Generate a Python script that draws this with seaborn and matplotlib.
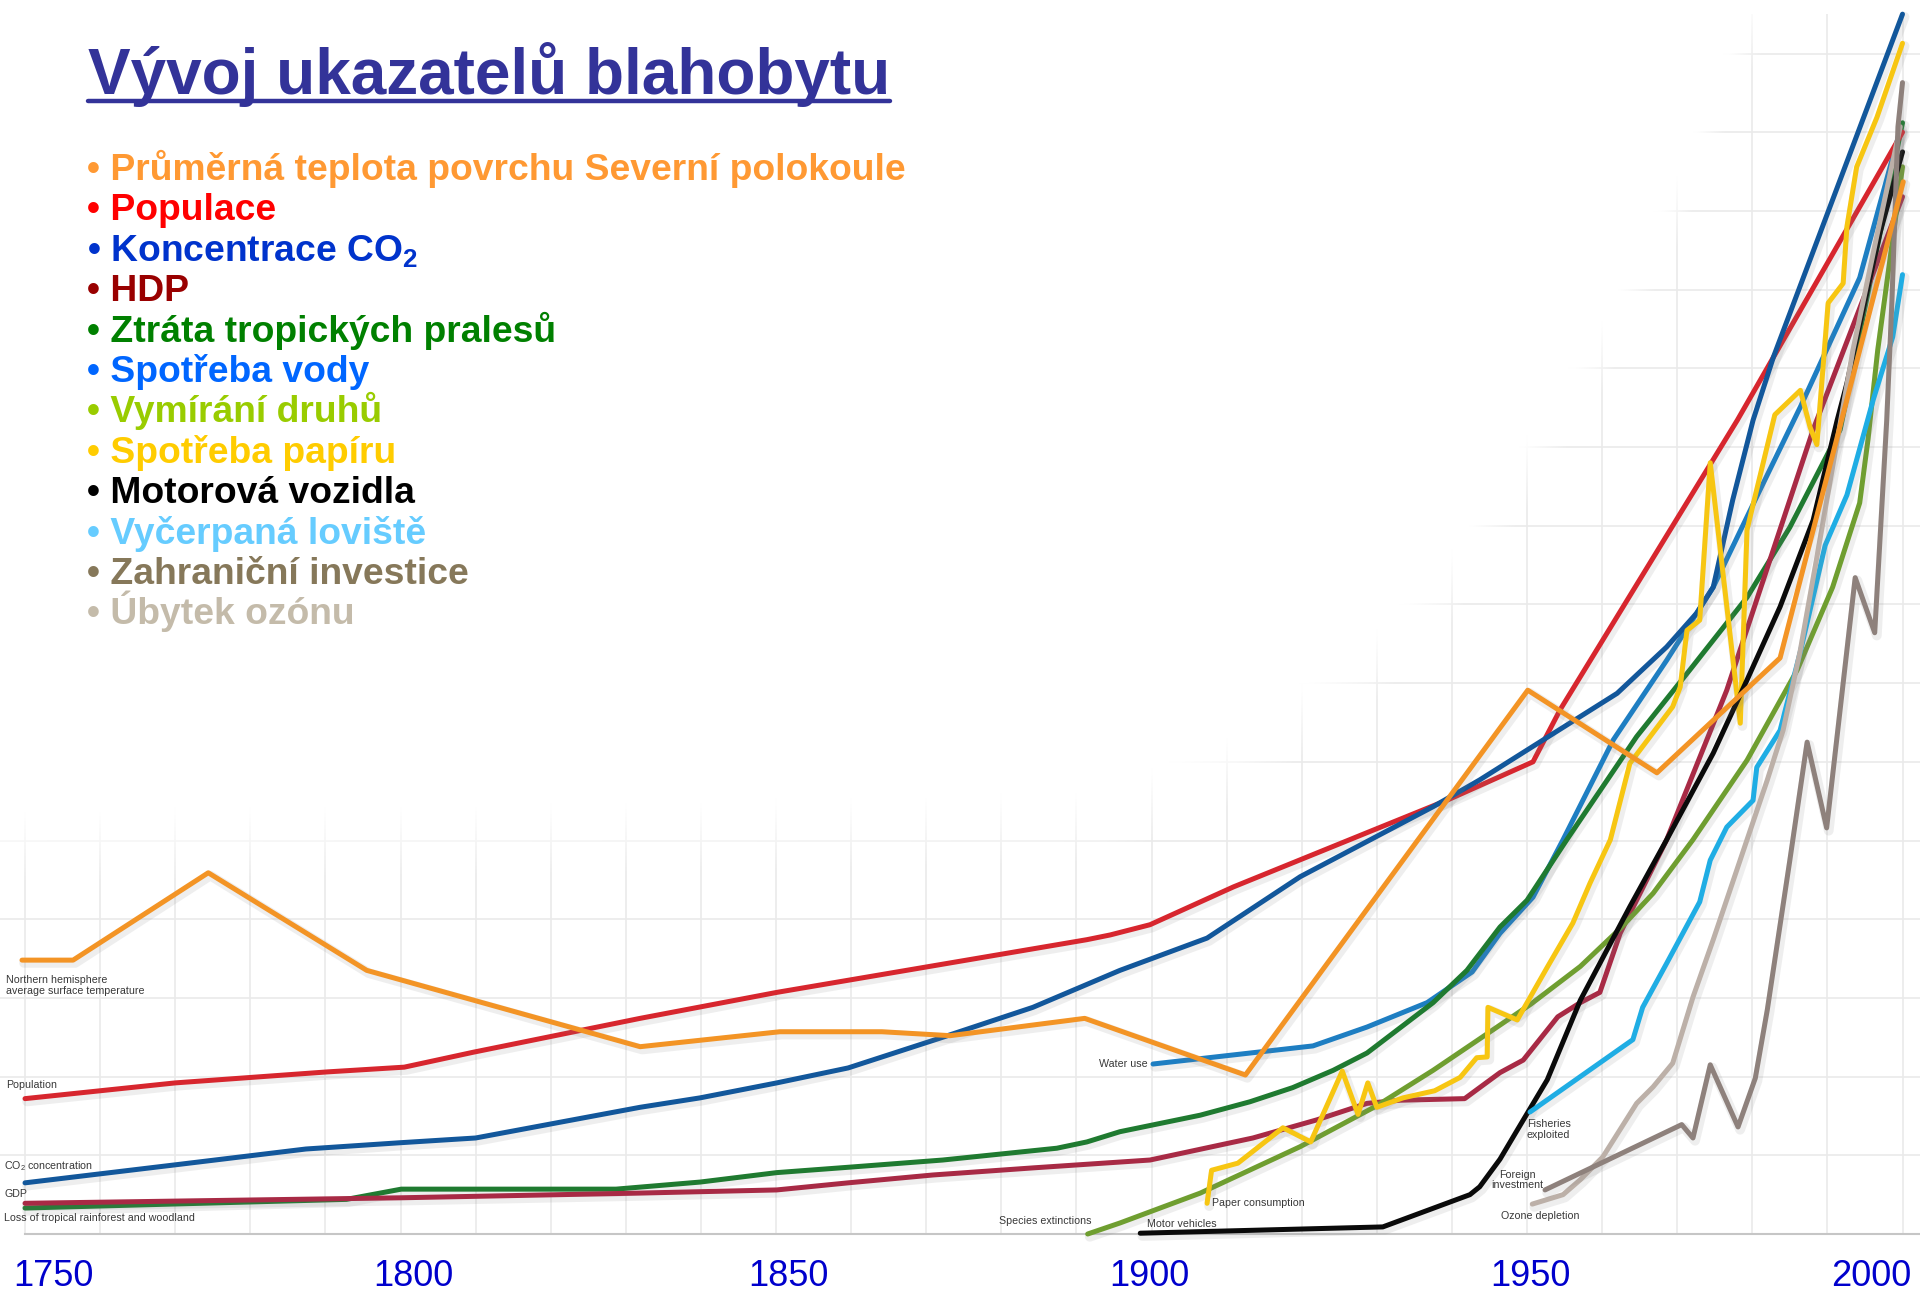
import numpy as np
import matplotlib
matplotlib.use("Agg")
import matplotlib.pyplot as plt
import matplotlib.patheffects as pe
import matplotlib.transforms as mtransforms
from matplotlib.lines import Line2D
import seaborn as sns

# --- values: year and an index (10 units = one grid row) ---
temp_years = [1749.6, 1756.4, 1774.4, 1795.5, 1831.9, 1850.5, 1864.1, 1873.2, 1891.1, 1912.5, 1950.1, 1967.3, 1983.7, 2000.1]
temp_vals = [34.8, 34.8, 45.9, 33.5, 23.8, 25.7, 25.7, 25.2, 27.4, 20.2, 69.1, 58.6, 73.2, 133.7]

pop_years = [1750, 1770, 1790.3, 1800.5, 1809.7, 1831.9, 1850.1, 1891.4, 1894.5, 1899.8, 1910.9, 1928.7, 1939.3, 1950.8, 1954.4, 1978.0, 2000]
pop_vals = [17.2, 19.2, 20.6, 21.2, 23.1, 27.4, 30.7, 37.4, 38.0, 39.3, 44.1, 51.0, 55.1, 60.0, 66.6, 103.4, 140.0]

co2_years = [1750, 1770.1, 1787.4, 1800, 1810, 1831.9, 1839.9, 1850.1, 1859.6, 1872.2, 1884.2, 1895.8, 1907.4, 1919.8,
             1937.5, 1943.7, 1962.0, 1968.6, 1972.6, 1974.8, 1977.4, 1980.1, 1982.8, 2000]
co2_vals = [6.5, 8.8, 10.8, 11.6, 12.2, 16.1, 17.3, 19.2, 21.1, 25.0, 28.8, 33.5, 37.6, 45.4,
            54.3, 57.7, 68.7, 74.6, 78.9, 82.2, 93.3, 103.4, 111.4, 155.0]

gdp_years = [1750, 1800, 1831.9, 1850.1, 1859.6, 1870.9, 1884.2, 1899.8, 1913.5, 1922.0, 1928.7, 1933.1, 1941.7,
             1946.4, 1949.5, 1954.1, 1957.1, 1959.7, 1962.4, 1968.6, 1976.6, 1988.1, 2000]
gdp_vals = [3.9, 4.6, 5.2, 5.6, 6.5, 7.5, 8.4, 9.4, 12.2, 14.5, 16.6, 17.0, 17.2,
            20.5, 22.1, 27.6, 29.4, 30.7, 38.2, 50.1, 69.1, 102.2, 131.8]

forest_years = [1750, 1792.8, 1800.1, 1828.7, 1839.9, 1850.1, 1859.9, 1872.2, 1887.4, 1891.4, 1895.8, 1906.5, 1913.1,
                1918.8, 1924.2, 1928.7, 1933.1, 1937.5, 1942.0, 1946.4, 1950.0, 1955.3, 1964.6, 1971.7, 1979.3,
                1985.0, 1991.7, 2000]
forest_vals = [3.3, 4.4, 5.7, 5.7, 6.6, 7.8, 8.5, 9.4, 10.9, 11.7, 13.0, 15.1, 16.8,
               18.6, 20.8, 23.0, 26.2, 29.4, 33.5, 39.0, 42.4, 50.1, 63.2, 71.7, 80.9,
               89.8, 102.2, 141.2]

water_years = [1900.2, 1921.5, 1928.7, 1936.7, 1942.7, 1946.4, 1950.8, 1954.8, 1961.5, 1968.6, 1974.8, 1981.0, 1986.4, 1994.3, 1999.7]
water_vals = [21.6, 23.9, 26.3, 29.4, 33.3, 38.2, 42.8, 50.1, 62.8, 72.9, 82.2, 94.5, 105.1, 121.5, 140.3]

species_years = [1891.5, 1895.8, 1906.5, 1919.8, 1930.0, 1937.5, 1943.7, 1950.5, 1957.1, 1962.4, 1966.8, 1972.1,
                 1979.3, 1986.0, 1990.7, 1994.3, 1995.4, 1996.7, 1999.4, 2000]
species_vals = [0.0, 1.4, 5.2, 11.1, 16.3, 20.8, 24.8, 29.2, 34.0, 38.8, 43.3, 50.1,
                60.2, 71.7, 82.2, 92.9, 100.9, 112.3, 131.4, 135.6]

paper_years = [1907.4, 1908, 1911.5, 1917.5, 1921.2, 1925.4, 1927.5, 1928.8, 1930, 1933.5, 1937.7, 1941.1, 1943.3,
               1944.7, 1944.8, 1948.7, 1952.7, 1956.1, 1958.4, 1961.1, 1963.7, 1969.4, 1970.4, 1971.3, 1973,
               1974.4, 1978.4, 1979.3, 1983, 1986.4, 1987.7, 1988.6, 1990.1, 1992.1, 1992.6, 1993.9, 1996.6, 2000]
paper_vals = [3.9, 8.1, 9.0, 13.5, 11.7, 20.7, 15.2, 19.2, 16.1, 17.3, 18.2, 19.9, 22.4,
              22.5, 28.8, 27.2, 33.9, 39.5, 44.6, 50.1, 59.8, 67.0, 69.5, 76.7, 78.0,
              98.0, 64.9, 89.5, 104.1, 107.2, 102.5, 100.3, 118.3, 120.8, 128.0, 135.6, 141.9, 151.3]

motor_years = [1898.5, 1930.8, 1942.4, 1943.7, 1946.4, 1948.7, 1952.7, 1957.1, 1963.7, 1968.6, 1974.8, 1979.3,
               1983.7, 1988.1, 1991.3, 1992.6, 1997.0, 2000]
motor_vals = [0.1, 0.9, 5.0, 6.0, 9.5, 13.2, 19.6, 29.7, 41.6, 50.1, 61.1, 70.4,
              79.7, 90.7, 103.4, 108.1, 127.2, 137.5]

fish_years = [1950.4, 1964.1, 1965.4, 1968.6, 1973.0, 1974.4, 1976.6, 1980.1, 1980.6, 1983.7, 1986.4, 1989.7,
              1992.6, 1996.1, 1998.7, 2000]
fish_vals = [15.5, 24.7, 28.8, 34.4, 42.2, 47.5, 51.7, 55.1, 59.3, 64.0, 74.0, 87.5,
             93.9, 106.0, 114.0, 121.9]

invest_years = [1952.4, 1970.6, 1972.1, 1974.4, 1978.1, 1980.4, 1982.0, 1985.0, 1987.3, 1989.9, 1993.7, 1996.3,
                1997.9, 1998.6, 1999.4, 2000]
invest_vals = [5.6, 13.9, 12.2, 21.5, 13.6, 19.8, 28.5, 47.5, 62.5, 51.6, 83.4, 76.4,
               103.4, 118.7, 140.7, 146.3]

ozone_years = [1950.7, 1954.8, 1957.1, 1960.1, 1964.6, 1966.8, 1969.4, 1972.1, 1974.8, 1979.3, 1982.0, 1984.1,
               1986.4, 1988.6, 1993.4, 1996.6, 1999.7]
ozone_vals = [3.8, 5.0, 6.9, 9.8, 16.6, 18.7, 21.7, 30.1, 37.4, 50.1, 57.7, 64.0,
              74.2, 86.0, 112.3, 126.9, 140.7]

tick_years = [1750, 1800, 1850, 1900, 1950, 2000]
tick_labels = ["1750", "1800", "1850", "1900", "1950", "2000"]

title_text = "Vývoj ukazatelů blahobytu"
legend_labels = [
    "Průměrná teplota povrchu Severní polokoule",
    "Populace",
    "Koncentrace CO$_\\mathbf{2}$",
    "HDP",
    "Ztráta tropických pralesů",
    "Spotřeba vody",
    "Vymírání druhů",
    "Spotřeba papíru",
    "Motorová vozidla",
    "Vyčerpaná loviště",
    "Zahraniční investice",
    "Úbytek ozónu",
]
legend_colors = ["#FF9933", "#FF0000", "#0033CC", "#990000", "#008000", "#0066FF",
                 "#99CC00", "#FFCC00", "#000000", "#66CCFF", "#86785A", "#C4BBAA"]

# --- style ---
sns.set_style("white")
plt.rcParams["font.family"] = ["Liberation Sans", "DejaVu Sans"]
plt.rcParams["mathtext.fontset"] = "custom"
plt.rcParams["mathtext.rm"] = "Liberation Sans"
plt.rcParams["mathtext.it"] = "Liberation Sans:italic"
plt.rcParams["mathtext.bf"] = "Liberation Sans:bold"

W, H = 1920, 1292
fig = plt.figure(figsize=(W / 100, H / 100), dpi=100)
ax = fig.add_axes([0, 0, 1, 1])
xlim = (1746.67, 2002.33)
ylim = (-7.37, 156.8)

# faint grid, faded out behind the text block in the upper left
ax.vlines(np.arange(1750, 2001, 10), 0, 155, colors="#EAEAEA", lw=1.2, zorder=0.5)
ax.hlines(np.arange(10, 151, 10), xlim[0], xlim[1], colors="#EAEAEA", lw=1.2, zorder=0.5)

gx = np.linspace(0, W, 385)
gy = np.linspace(0, H, 260)
edge_x = [0, 700, 1100, 1240, 1377, 1450, 1603, 1680, 1750, 1775, 1920]
edge_y = [850, 840, 830, 770, 670, 595, 360, 210, 40, 0, -300]
edge = np.interp(gx, edge_x, edge_y)
mask = np.ones((len(gy), len(gx), 4))
mask[..., 3] = np.clip((edge[None, :] - gy[:, None]) / 70 + 0.5, 0, 1)
ax.imshow(mask, extent=(0, 1, 0, 1), transform=ax.transAxes, origin="upper",
          aspect="auto", zorder=1, interpolation="bilinear")

shadow = [pe.SimpleLineShadow(offset=(1.5, -2.0), shadow_color="#7f7f7f", alpha=0.13, linewidth=7),
          pe.Normal()]

series = [
    (water_years, water_vals, "#1E7EC2", "Water use", (-3.6, 0), "right"),
    (forest_years, forest_vals, "#1F7A30", "Loss of tropical rainforest and woodland", (-14.8, -7.2), "left"),
    (gdp_years, gdp_vals, "#A82A45", "GDP", (-14.8, 6.5), "left"),
    (pop_years, pop_vals, "#D7262E", "Population", (-13.7, 10.1), "left"),
    (co2_years, co2_vals, "#12579B", "CO$_2$ concentration", (-14.8, 12.2), "left"),
    (species_years, species_vals, "#6F9E30", "Species extinctions", (2.9, 9.4), "right"),
    (paper_years, paper_vals, "#F7C612", "Paper consumption", (3.6, 0), "left"),
    (motor_years, motor_vals, "#0A0A0A", "Motor vehicles", (5.0, 6.5), "left"),
    (fish_years, fish_vals, "#1FADE4", "Fisheries\nexploited", (-2.2, -12.6), "left"),
    (ozone_years, ozone_vals, "#BCB0A8", "Ozone depletion", (5.8, -8.6), "center"),
    (invest_years, invest_vals, "#8E817C", "Foreign\ninvestment", (-20, 7.2), "center"),
    (temp_years, temp_vals, "#F39425", "Northern hemisphere\naverage surface temperature", (-11.5, -18.4), "left"),
]

for yrs, vals, color, text, (dx, dy), ha in series:
    sns.lineplot(x=yrs, y=vals, ax=ax, color=color, lw=3.6, sort=False, estimator=None,
                 legend=False, zorder=3, path_effects=shadow,
                 solid_joinstyle="round", solid_capstyle="round")
    ax.annotate(text, xy=(yrs[0], vals[0]), xytext=(dx, dy), textcoords="offset points",
                ha=ha, va="center", fontsize=7.7, color="#383838",
                linespacing=1.1, multialignment=ha, zorder=5)

# axis: only the baseline with the year labels
for side in ["top", "left", "right"]:
    ax.spines[side].set_visible(False)
ax.spines["bottom"].set_position(("data", 0))
ax.spines["bottom"].set_color("#C6C6C6")
ax.spines["bottom"].set_linewidth(1.5)
ax.spines["bottom"].set_bounds(1750, xlim[1])
ax.set_yticks([])
ax.set_xticks(tick_years)
ax.set_xticklabels(tick_labels)
ax.tick_params(axis="x", length=3, width=1.2, color="#BBBBBB", direction="out", pad=15,
               labelsize=26, labelcolor="#0000CC")
ax.set_xlabel("")
ax.set_ylabel("")
label_shift_px = [28, 13, 12, -2, 3, -31]
for lab, dpx in zip(ax.get_xticklabels(), label_shift_px):
    lab.set_transform(lab.get_transform() + mtransforms.ScaledTranslation(dpx / 100, 0, fig.dpi_scale_trans))

ax.set_xlim(*xlim)
ax.set_ylim(*ylim)

# title and the coloured list
title = fig.text(88 / W, 1 - 94 / H, title_text, fontsize=46, fontweight="bold", color="#333399",
                 ha="left", va="baseline")
for i, (lab, col) in enumerate(zip(legend_labels, legend_colors)):
    fig.text(87 / W, 1 - (180 + 40.4 * i) / H, "• " + lab, fontsize=26.8, fontweight="bold",
             color=col, ha="left", va="baseline")

fig.canvas.draw()
bb = title.get_window_extent()
fig.add_artist(Line2D([bb.x0 / W, bb.x1 / W], [1 - 101 / H] * 2, color="#333399", lw=3.2,
                      transform=fig.transFigure))

fig.savefig("out.png", dpi=100, facecolor="white")
